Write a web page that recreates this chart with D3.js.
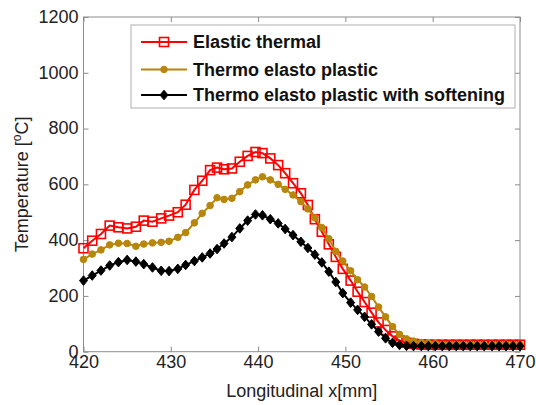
<!DOCTYPE html>
<html>
<head>
<meta charset="utf-8">
<script src="https://cdn.jsdelivr.net/npm/d3@7"></script>
<style>
  body { margin: 0; background: #fff; }
  svg { font-family: "Liberation Sans", Arial, sans-serif; }
</style>
</head>
<body>
<div id="chart"></div>
<script>
// longitudinal positions [mm]
const xPos = [420.0, 421.0, 422.0, 423.0, 424.0, 425.0, 426.0, 426.9, 427.9, 428.9,
  429.8, 430.8, 431.7, 432.7, 433.6, 434.5, 435.3, 436.1, 437.0, 437.9,
  438.8, 439.7, 440.5, 441.4, 442.3, 443.1, 444.0, 444.9, 445.7, 446.5,
  447.3, 448.1, 448.9, 449.7, 450.6, 451.4, 452.2, 453.0, 453.8, 454.6,
  455.4, 456.2, 457.0, 457.8, 458.7, 459.5, 460.3, 461.1, 461.9, 462.7,
  463.5, 464.3, 465.1, 465.9, 466.8, 467.6, 468.4, 469.2, 470.0];

const elasticThermal = [371, 398, 422, 452, 446, 442, 448, 470, 466, 478,
  488, 500, 527, 580, 613, 651, 660, 654, 657, 681,
  702, 716, 712, 693, 669, 640, 604, 568, 526, 475,
  430, 385, 340, 297, 255, 215, 178, 140, 105, 78,
  55, 40, 32, 28, 26, 25, 25, 25, 25, 25,
  25, 25, 25, 25, 25, 25, 25, 25, 25];

const thermoElastoPlastic = [331, 350, 365, 383, 389, 388, 378, 386, 390, 392,
  396, 410, 427, 462, 496, 524, 552, 546, 550, 574,
  598, 616, 627, 616, 600, 582, 562, 538, 512, 480,
  445, 405, 360, 325, 290, 258, 232, 198, 160, 125,
  90, 62, 46, 38, 33, 30, 28, 26, 26, 26,
  26, 26, 26, 26, 26, 26, 26, 26, 26];

const withSoftening = [255, 273, 291, 309, 321, 329, 323, 314, 302, 290,
  289, 297, 311, 325, 338, 352, 368, 388, 411, 442,
  470, 492, 489, 475, 460, 440, 418, 394, 372, 348,
  320, 287, 250, 210, 176, 150, 125, 98, 72, 48,
  32, 24, 21, 20, 20, 20, 20, 20, 20, 20,
  20, 20, 20, 20, 20, 20, 20, 20, 20];

const seriesNames = ["Elastic thermal", "Thermo elasto plastic", "Thermo elasto plastic with softening"];
const xTicks = [420, 430, 440, 450, 460, 470];
const yTicks = [0, 200, 400, 600, 800, 1000, 1200];

const width = 536, height = 405;
const margin = {left: 83.5, right: 16, top: 17, bottom: 53.3};

const svg = d3.select("#chart").append("svg")
  .attr("width", width)
  .attr("height", height);

const x = d3.scaleLinear().domain([420, 470]).range([margin.left, width - margin.right]);
const y = d3.scaleLinear().domain([0, 1200]).range([height - margin.bottom, margin.top]);

const axisColor = "#8c8c8c";

// plot frame
svg.append("rect")
  .attr("x", x(420)).attr("y", y(1200))
  .attr("width", x(470) - x(420)).attr("height", y(0) - y(1200))
  .attr("fill", "none").attr("stroke", axisColor).attr("stroke-width", 1);

// axes with inward ticks
const tickLen = 5;
const styleAxis = g => {
  g.select(".domain").remove();
  g.selectAll(".tick line").attr("stroke", axisColor);
  g.selectAll(".tick text").attr("fill", "#222").style("font-size", "18px");
};

svg.append("g")
  .attr("transform", `translate(0,${y(0)})`)
  .call(d3.axisBottom(x).tickValues(xTicks).tickSizeInner(-tickLen).tickSizeOuter(0).tickPadding(4))
  .call(styleAxis)
  .call(g => g.selectAll(".tick text").attr("dy", "0.71em"));

svg.append("g")
  .attr("transform", `translate(0,${y(1200)})`)
  .call(d3.axisTop(x).tickValues(xTicks).tickSizeInner(-tickLen).tickSizeOuter(0).tickFormat(""))
  .call(styleAxis);

svg.append("g")
  .attr("transform", `translate(${x(420)},0)`)
  .call(d3.axisLeft(y).tickValues(yTicks).tickFormat(d3.format("d"))
    .tickSizeInner(-tickLen).tickSizeOuter(0).tickPadding(5))
  .call(styleAxis)
  .call(g => g.selectAll(".tick text").attr("dy", "0.3em"));

svg.append("g")
  .attr("transform", `translate(${x(470)},0)`)
  .call(d3.axisRight(y).tickValues(yTicks).tickSizeInner(-tickLen).tickSizeOuter(0).tickFormat(""))
  .call(styleAxis);

// axis titles
svg.append("text")
  .attr("x", (x(420) + x(470)) / 2).attr("y", 397)
  .attr("text-anchor", "middle")
  .style("font-size", "18px").attr("fill", "#222")
  .text("Longitudinal x[mm]");

const yTitle = svg.append("text")
  .attr("transform", `translate(28,${(y(0) + y(1200)) / 2}) rotate(-90)`)
  .attr("text-anchor", "middle")
  .style("font-size", "18px").attr("fill", "#222");
yTitle.append("tspan").text("Temperature [");
yTitle.append("tspan").attr("dy", -7).style("font-size", "12px").text("o");
yTitle.append("tspan").attr("dy", 7).text("C]");

// series
const series = [
  {name: seriesNames[0], values: elasticThermal, color: "#ff0000", marker: "square"},
  {name: seriesNames[1], values: thermoElastoPlastic, color: "#b8860b", marker: "circle"},
  {name: seriesNames[2], values: withSoftening, color: "#000000", marker: "diamond"}
];

const line = d3.line().x(d => x(d[0])).y(d => y(d[1]));

function drawMarker(g, type, color) {
  if (type === "square") {
    g.append("rect").attr("x", -4.5).attr("y", -4.5).attr("width", 9).attr("height", 9)
      .attr("fill", "none").attr("stroke", color).attr("stroke-width", 1.6);
  } else if (type === "circle") {
    g.append("circle").attr("r", 3.3).attr("fill", color).attr("stroke", color);
  } else {
    g.append("path").attr("d", "M0,-4.8L4,0L0,4.8L-4,0Z")
      .attr("fill", color).attr("stroke", color).attr("stroke-width", 1);
  }
}

series.forEach(s => {
  const pts = xPos.map((xv, i) => [xv, s.values[i]]);
  const g = svg.append("g");
  g.append("path").datum(pts)
    .attr("d", line).attr("fill", "none")
    .attr("stroke", s.color).attr("stroke-width", 2);
  g.selectAll(".m").data(pts).enter().append("g")
    .attr("transform", d => `translate(${x(d[0])},${y(d[1])})`)
    .each(function () { drawMarker(d3.select(this), s.marker, s.color); });
});

// legend
const legend = svg.append("g");
legend.append("rect")
  .attr("x", 131).attr("y", 25).attr("width", 384).attr("height", 83)
  .attr("fill", "#fff").attr("stroke", "#b0b0b0").attr("stroke-width", 1);

const rowY = [42, 69.5, 95];
series.forEach((s, i) => {
  const row = legend.append("g").attr("transform", `translate(0,${rowY[i]})`);
  row.append("line").attr("x1", 141).attr("x2", 187).attr("y1", 0).attr("y2", 0)
    .attr("stroke", s.color).attr("stroke-width", 2);
  const m = row.append("g").attr("transform", "translate(164,0)");
  drawMarker(m, s.marker, s.color);
  row.append("text").attr("x", 193).attr("y", 0).attr("dy", "0.36em")
    .style("font-size", "18px").style("font-weight", "bold").attr("fill", "#111")
    .text(s.name);
});
</script>
</body>
</html>
